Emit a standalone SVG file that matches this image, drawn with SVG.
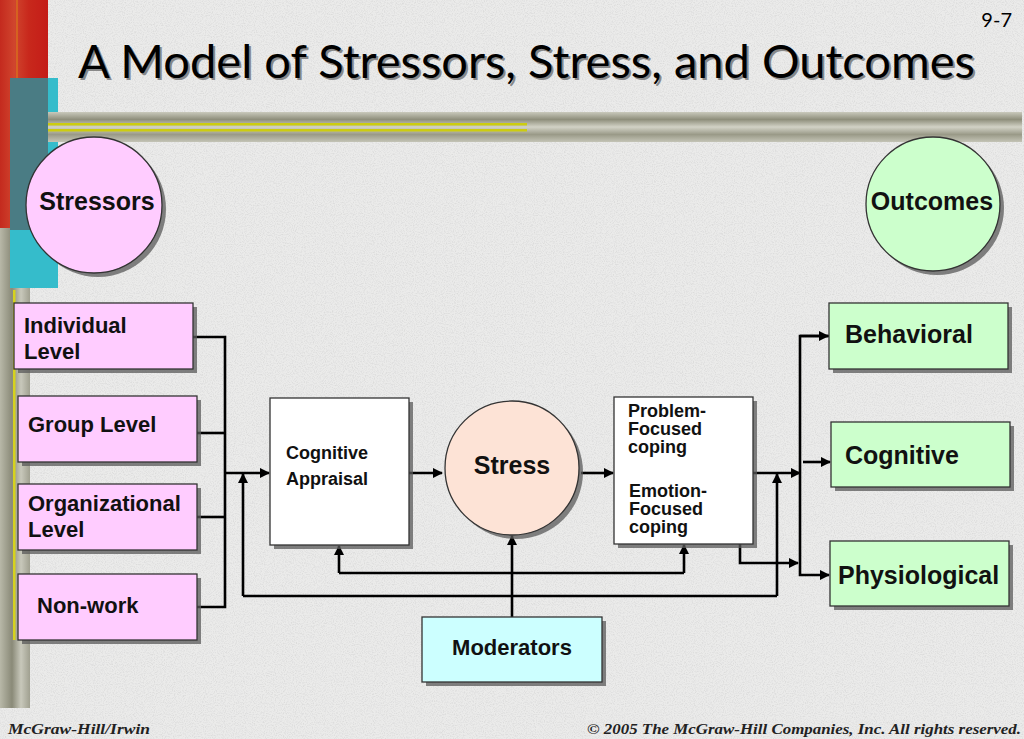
<svg xmlns="http://www.w3.org/2000/svg" width="1024" height="739" viewBox="0 0 1024 739">
<style>
.lbl{font-family:"Liberation Sans",Arial,sans-serif;font-weight:bold;fill:#111}
.box{stroke:#333;stroke-width:1.3}
.sh{fill:#5a5a5a;opacity:0.75}
.pink{fill:#ffccff}
.green{fill:#ccffcc}
.cyan{fill:#ccffff}
.white{fill:#ffffff}
.peach{fill:#fde3d6}
.conn{fill:none;stroke:#000;stroke-width:2.6}
.foot{font-family:"Liberation Serif","Times New Roman",serif;font-style:italic;font-weight:bold;fill:#222;font-size:14px}
</style>
<defs>
<marker id="ah" viewBox="0 0 10 10" refX="9" refY="5" markerWidth="4" markerHeight="4" orient="auto" markerUnits="strokeWidth">
<path d="M0,0 L10,5 L0,10 z" fill="#000"/>
</marker>
<filter id="noise" x="0" y="0" width="100%" height="100%">
<feTurbulence type="fractalNoise" baseFrequency="0.9" numOctaves="2" seed="3"/>
<feColorMatrix type="matrix" values="0 0 0 0 0.6  0 0 0 0 0.6  0 0 0 0 0.6  0 0 0 -2.6 1.5"/>
</filter>
<linearGradient id="wood" x1="0" y1="0" x2="0" y2="1">
<stop offset="0" stop-color="#c9c9bc"/>
<stop offset="0.25" stop-color="#8f8f7c"/>
<stop offset="0.5" stop-color="#d2d2c6"/>
<stop offset="0.75" stop-color="#9a9a88"/>
<stop offset="1" stop-color="#c4c4b6"/>
</linearGradient>
<linearGradient id="woodv" x1="0" y1="0" x2="1" y2="0">
<stop offset="0" stop-color="#b8b8a8"/>
<stop offset="0.4" stop-color="#8a8a78"/>
<stop offset="0.7" stop-color="#c8c8bb"/>
<stop offset="1" stop-color="#a0a090"/>
</linearGradient>
<linearGradient id="red" x1="0" y1="0" x2="1" y2="0">
<stop offset="0" stop-color="#c42a1e"/>
<stop offset="0.3" stop-color="#d0452e"/>
<stop offset="0.6" stop-color="#c8281c"/>
<stop offset="1" stop-color="#c41c18"/>
</linearGradient>
</defs>

<!-- background -->
<rect x="0" y="0" width="1024" height="739" fill="#ebebea"/>
<rect x="0" y="0" width="1024" height="739" filter="url(#noise)" opacity="0.45"/>

<!-- decoration -->
<rect x="0" y="0" width="48" height="232" fill="url(#red)"/>
<rect x="16" y="0" width="2" height="232" fill="#d8701c" opacity="0.7"/>
<rect x="0" y="228" width="30" height="480" fill="url(#woodv)"/>
<rect x="10" y="78" width="48" height="210" fill="#35bccb"/>
<rect x="10" y="78" width="38" height="152" fill="#4a7c84"/>
<rect x="13" y="290" width="2.5" height="350" fill="#d6d21e"/>
<rect x="48" y="112" width="974" height="30" fill="url(#wood)"/>
<rect x="48" y="123" width="479" height="2.5" fill="#cccc10"/>
<rect x="48" y="129" width="479" height="2.5" fill="#cccc10"/>

<!-- title -->
<text x="80" y="80" font-family="Lato,'Open Sans',sans-serif" font-size="46" fill="#888" textLength="897" lengthAdjust="spacingAndGlyphs">A Model of Stressors, Stress, and Outcomes</text>
<text x="78" y="78" font-family="Lato,'Open Sans',sans-serif" font-size="46" fill="#000" textLength="897" lengthAdjust="spacingAndGlyphs">A Model of Stressors, Stress, and Outcomes</text>
<text x="1012" y="27" font-family="Lato,'Open Sans',sans-serif" font-size="20" fill="#000" text-anchor="end">9-7</text>

<!-- connectors -->
<g id="connectors">
<polyline class="conn" points="193,337 225,337 225,607 197,607"/>
<line class="conn" x1="197" y1="433" x2="225" y2="433"/>
<line class="conn" x1="197" y1="517" x2="225" y2="517"/>
<line class="conn" x1="225" y1="473" x2="269" y2="473" marker-end="url(#ah)"/>
<line class="conn" x1="409" y1="473" x2="442" y2="473" marker-end="url(#ah)"/>
<line class="conn" x1="581" y1="473" x2="613" y2="473" marker-end="url(#ah)"/>
<line class="conn" x1="753" y1="473" x2="800" y2="473" marker-end="url(#ah)"/>
<polyline class="conn" points="829,336 800,336 800,575 829,575" marker-end="url(#ah)"/>
<line class="conn" x1="800" y1="336" x2="828" y2="336" marker-end="url(#ah)"/>
<line class="conn" x1="803" y1="462" x2="830" y2="462" marker-end="url(#ah)"/>
<polyline class="conn" points="740,544 740,563 798,563" marker-end="url(#ah)"/>
<line class="conn" x1="512" y1="617" x2="512" y2="536" marker-end="url(#ah)"/>
<line class="conn" x1="339" y1="573" x2="684" y2="573"/>
<line class="conn" x1="339" y1="573" x2="339" y2="546" marker-end="url(#ah)"/>
<line class="conn" x1="684" y1="573" x2="684" y2="545" marker-end="url(#ah)"/>
<line class="conn" x1="243" y1="596" x2="777" y2="596"/>
<line class="conn" x1="243" y1="596" x2="243" y2="474" marker-end="url(#ah)"/>
<line class="conn" x1="777" y1="596" x2="777" y2="474" marker-end="url(#ah)"/>
</g>

<g id="stressors">
<circle cx="98" cy="209" r="68" class="sh"/>
<circle cx="94" cy="205" r="68" class="pink box"/>
<text class="lbl" x="97" y="210" font-size="25" text-anchor="middle">Stressors</text>
</g>

<g id="outcomes">
<circle cx="937" cy="208" r="67" class="sh"/>
<circle cx="933" cy="204" r="67" class="green box"/>
<text class="lbl" x="932" y="210" font-size="25" text-anchor="middle">Outcomes</text>
</g>

<g id="individual">
<rect x="18" y="307" width="179" height="66" class="sh"/>
<rect x="14" y="303" width="179" height="66" class="pink box"/>
<text class="lbl" x="24" y="333" font-size="22">Individual</text>
<text class="lbl" x="24" y="359" font-size="22">Level</text>
</g>

<g id="group">
<rect x="22" y="400" width="179" height="66" class="sh"/>
<rect x="18" y="396" width="179" height="66" class="pink box"/>
<text class="lbl" x="28" y="432" font-size="22">Group Level</text>
</g>

<g id="organizational">
<rect x="22" y="488" width="179" height="66" class="sh"/>
<rect x="18" y="484" width="179" height="66" class="pink box"/>
<text class="lbl" x="28" y="511" font-size="22">Organizational</text>
<text class="lbl" x="28" y="537" font-size="22">Level</text>
</g>

<g id="nonwork">
<rect x="22" y="578" width="179" height="66" class="sh"/>
<rect x="18" y="574" width="179" height="66" class="pink box"/>
<text class="lbl" x="37" y="613" font-size="22">Non-work</text>
</g>

<g id="appraisal">
<rect x="274" y="402" width="139" height="147" class="sh"/>
<rect x="270" y="398" width="139" height="147" class="white box"/>
<text class="lbl" x="286" y="459" font-size="18">Cognitive</text>
<text class="lbl" x="286" y="485" font-size="18">Appraisal</text>
</g>

<g id="stress">
<circle cx="516" cy="472" r="67" class="sh"/>
<circle cx="512" cy="468" r="67" class="peach box"/>
<text class="lbl" x="512" y="474" font-size="25" text-anchor="middle">Stress</text>
</g>

<g id="coping">
<rect x="618" y="401" width="139" height="147" class="sh"/>
<rect x="614" y="397" width="139" height="147" class="white box"/>
<text class="lbl" x="628" y="417" font-size="18">Problem-</text>
<text class="lbl" x="628" y="435" font-size="18">Focused</text>
<text class="lbl" x="628" y="453" font-size="18">coping</text>
<text class="lbl" x="629" y="497" font-size="18">Emotion-</text>
<text class="lbl" x="629" y="515" font-size="18">Focused</text>
<text class="lbl" x="629" y="533" font-size="18">coping</text>
</g>

<g id="moderators">
<rect x="426" y="621" width="180" height="65" class="sh"/>
<rect x="422" y="617" width="180" height="65" class="cyan box"/>
<text class="lbl" x="512" y="655" font-size="22" text-anchor="middle">Moderators</text>
</g>

<g id="behavioral">
<rect x="833" y="307" width="179" height="66" class="sh"/>
<rect x="829" y="303" width="179" height="66" class="green box"/>
<text class="lbl" x="845" y="343" font-size="25">Behavioral</text>
</g>

<g id="cognitive">
<rect x="835" y="426" width="179" height="65" class="sh"/>
<rect x="831" y="422" width="179" height="65" class="green box"/>
<text class="lbl" x="845" y="464" font-size="25">Cognitive</text>
</g>

<g id="physiological">
<rect x="834" y="545" width="179" height="65" class="sh"/>
<rect x="830" y="541" width="179" height="65" class="green box"/>
<text class="lbl" x="838" y="584" font-size="25">Physiological</text>
</g>

<!-- footer -->
<text class="foot" x="8" y="734" textLength="142" lengthAdjust="spacingAndGlyphs">McGraw-Hill/Irwin</text>
<text class="foot" x="587" y="734" textLength="434" lengthAdjust="spacingAndGlyphs">© 2005 The McGraw-Hill Companies, Inc. All rights reserved.</text>
</svg>
